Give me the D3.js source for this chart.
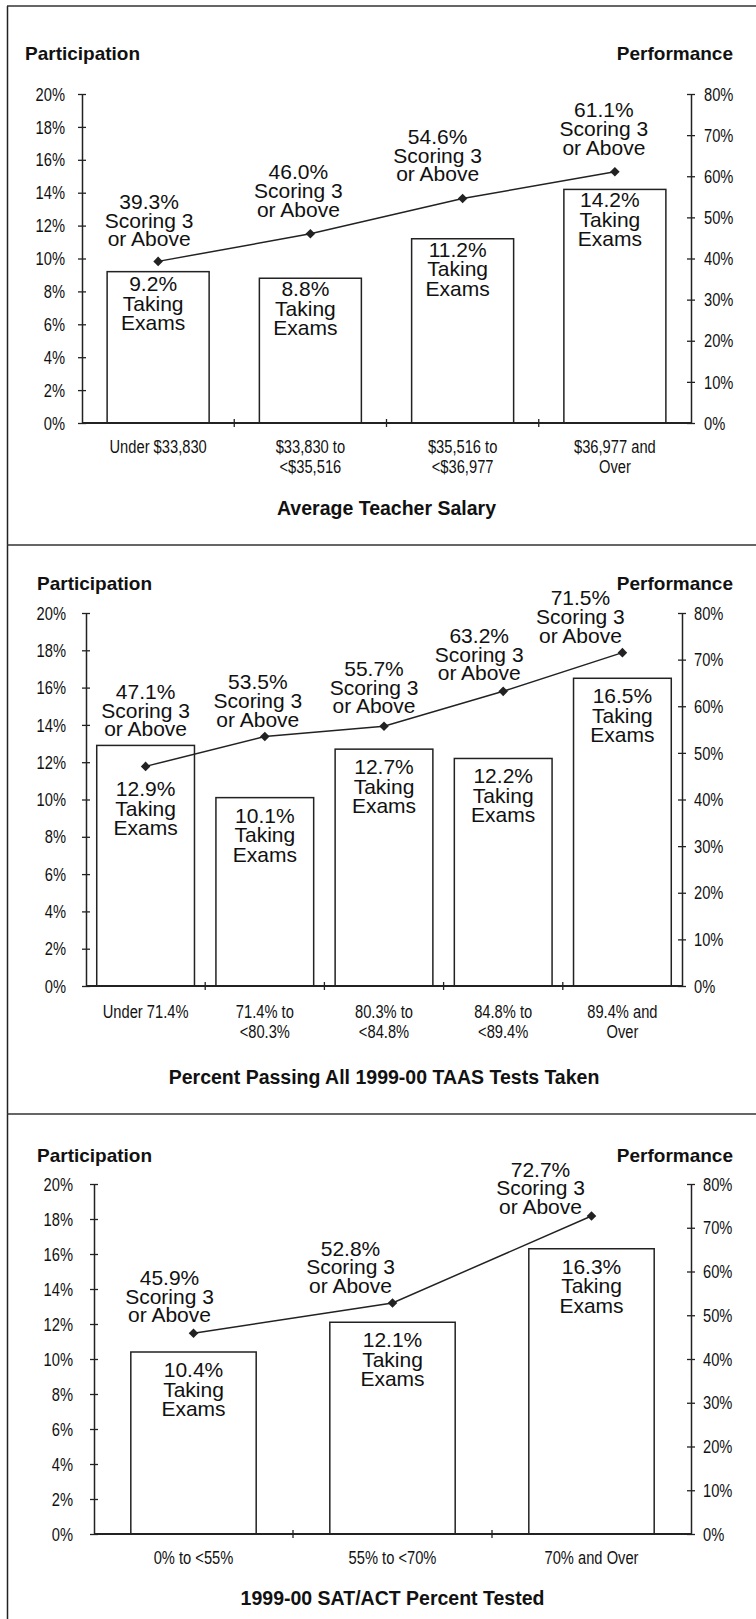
<!DOCTYPE html>
<html>
<head>
<meta charset="utf-8">
<script src="https://cdn.jsdelivr.net/npm/d3@7"></script>
<style>
  body { margin: 0; background: #fff; }
  svg text { fill: #111; }
  .reg { font-family: "Liberation Sans", Arial, sans-serif; }
</style>
</head>
<body>
<div id="chart"></div>
<script>
// tick labels shared by all three panels
const leftTicks = [0, 2, 4, 6, 8, 10, 12, 14, 16, 18, 20];
const rightTicks = [0, 10, 20, 30, 40, 50, 60, 70, 80];

// panel 1 - teacher salary
const salaryCats = [["Under $33,830"], ["$33,830 to", "<$35,516"], ["$35,516 to", "<$36,977"], ["$36,977 and", "Over"]];
const salaryTaking = [9.2, 8.8, 11.2, 14.2];
const salaryScoring = [39.3, 46.0, 54.6, 61.1];

// panel 2 - TAAS passing
const taasCats = [["Under 71.4%"], ["71.4% to", "<80.3%"], ["80.3% to", "<84.8%"], ["84.8% to", "<89.4%"], ["89.4% and", "Over"]];
const taasTaking = [12.9, 10.1, 12.7, 12.2, 16.5];
const taasScoring = [47.1, 53.5, 55.7, 63.2, 71.5];

// panel 3 - SAT/ACT tested
const satCats = [["0% to <55%"], ["55% to <70%"], ["70% and Over"]];
const satTaking = [10.4, 12.1, 16.3];
const satScoring = [45.9, 52.8, 72.7];

const width = 756, height = 1619;
// no condensed font installed, so squeeze the axis text horizontally
const narrow = 0.84;

var svg = d3.select("#chart")
    .append("svg")
    .attr("width", width)
    .attr("height", height);

// frame: left edge plus the panel dividers
svg.append("line").attr("x1", 7.5).attr("x2", 7.5).attr("y1", 6).attr("y2", height)
    .attr("stroke", "#222").attr("stroke-width", 1.5);
[6, 545, 1114].forEach(function (y) {
    svg.append("line").attr("x1", 7).attr("x2", width).attr("y1", y).attr("y2", y)
        .attr("stroke", "#333").attr("stroke-width", 1.5);
});

function drawPanel(p) {
    var g = svg.append("g");

    var x = d3.scaleBand()
        .domain(d3.range(p.cats.length))
        .range([p.left, p.right])
        .paddingInner(p.pad)
        .paddingOuter(p.pad / 2);

    var yL = d3.scaleLinear().domain([0, 20]).range([p.bottom, p.top]);
    var yR = d3.scaleLinear().domain([0, 80]).range([p.bottom, p.top]);

    // axes
    var leftAxis = d3.axisLeft(yL).tickValues(leftTicks).tickSizeInner(4).tickSizeOuter(0)
        .tickFormat(function (d) { return d + "%"; });
    var rightAxis = d3.axisRight(yR).tickValues(rightTicks).tickSizeInner(4).tickSizeOuter(0)
        .tickFormat(function (d) { return d + "%"; });

    var la = g.append("g").attr("transform", "translate(" + p.left + ",0)").call(leftAxis);
    var ra = g.append("g").attr("transform", "translate(" + p.right + ",0)").call(rightAxis);
    [la, ra].forEach(function (a) {
        a.select(".domain").attr("stroke", "#222").attr("stroke-width", 1.5);
        a.selectAll(".tick line").attr("stroke", "#222").attr("stroke-width", 1.3)
            .attr("x1", -4).attr("x2", 4);
        a.selectAll(".tick text").attr("class", "reg").attr("font-size", 17.5)
            .attr("fill", "#111").attr("transform", "scale(" + narrow + ",1)");
    });
    la.selectAll(".tick text").attr("x", -(p.left - p.leftLabelEnd) / narrow).attr("dy", "0.35em");
    ra.selectAll(".tick text").attr("x", p.rightLabelGap / narrow).attr("dy", "0.35em");

    // bars
    g.selectAll(".bar")
        .data(p.taking)
        .join("rect")
        .attr("class", "bar")
        .attr("x", function (d, i) { return x(i); })
        .attr("y", function (d) { return yL(d); })
        .attr("width", x.bandwidth())
        .attr("height", function (d) { return yL(0) - yL(d); })
        .attr("fill", "#fff")
        .attr("stroke", "#222")
        .attr("stroke-width", 1.5);

    // x axis baseline and category ticks
    g.append("line").attr("x1", p.left).attr("x2", p.right)
        .attr("y1", p.bottom).attr("y2", p.bottom)
        .attr("stroke", "#222").attr("stroke-width", 2);
    var step = (p.right - p.left) / p.cats.length;
    g.selectAll(".cattick")
        .data(d3.range(1, p.cats.length))
        .join("line")
        .attr("x1", function (d) { return p.left + d * step; })
        .attr("x2", function (d) { return p.left + d * step; })
        .attr("y1", p.bottom - 4).attr("y2", p.bottom + 4)
        .attr("stroke", "#222").attr("stroke-width", 1.3);

    // category labels
    g.selectAll(".catlabel")
        .data(p.cats)
        .join("text")
        .attr("class", "reg")
        .attr("font-size", 17.5)
        .attr("text-anchor", "middle")
        .attr("transform", function (d, i) {
            return "translate(" + (p.left + (i + 0.5) * step) + "," + p.catY + ") scale(" + narrow + ",1)";
        })
        .selectAll("tspan")
        .data(function (d) { return d; })
        .join("tspan")
        .attr("x", 0)
        .attr("y", function (d, i) { return i * 20; })
        .text(function (d) { return d; });

    // line of performance values
    var cx = function (i) { return x(i) + x.bandwidth() / 2; };
    var line = d3.line()
        .x(function (d, i) { return cx(i); })
        .y(function (d) { return yR(d); });

    g.append("path")
        .datum(p.scoring)
        .attr("d", line)
        .attr("fill", "none")
        .attr("stroke", "#222")
        .attr("stroke-width", 1.5);

    g.selectAll(".marker")
        .data(p.scoring)
        .join("path")
        .attr("class", "marker")
        .attr("d", d3.symbol(d3.symbolSquare, 46))
        .attr("transform", function (d, i) { return "translate(" + cx(i) + "," + yR(d) + ") rotate(45)"; })
        .attr("fill", "#222");

    // labels above the points
    g.selectAll(".linelabel")
        .data(p.scoring)
        .join("text")
        .attr("class", "reg")
        .attr("font-size", 21)
        .attr("text-anchor", "middle")
        .attr("transform", function (d, i) {
            return "translate(" + (cx(i) + p.lineNudge[i][0]) + "," + (yR(d) - p.lineNudge[i][1]) + ")";
        })
        .selectAll("tspan")
        .data(function (d) { return [d.toFixed(1) + "%", "Scoring 3", "or Above"]; })
        .join("tspan")
        .attr("x", 0)
        .attr("y", function (d, i) { return (i - 2) * 18.7; })
        .text(function (d) { return d; });

    // labels inside the bars, pushed under the marker when it sits in the bar
    g.selectAll(".barlabel")
        .data(p.taking)
        .join("text")
        .attr("class", "reg")
        .attr("font-size", 21)
        .attr("text-anchor", "middle")
        .attr("transform", function (d, i) {
            var yy = Math.max(yL(d) + p.barDy, yR(p.scoring[i]) + 30);
            return "translate(" + (cx(i) + p.barDx) + "," + yy + ")";
        })
        .selectAll("tspan")
        .data(function (d) { return [d.toFixed(1) + "%", "Taking", "Exams"]; })
        .join("tspan")
        .attr("x", 0)
        .attr("y", function (d, i) { return i * 19.5; })
        .text(function (d) { return d; });

    // titles
    g.append("text").attr("class", "reg").attr("font-size", 19).attr("font-weight", "bold")
        .attr("x", p.partX).attr("y", p.headY).text("Participation");
    g.append("text").attr("class", "reg").attr("font-size", 19).attr("font-weight", "bold")
        .attr("text-anchor", "end")
        .attr("x", 733).attr("y", p.headY).text("Performance");
    g.append("text").attr("class", "reg").attr("font-size", 19.5).attr("font-weight", "bold")
        .attr("text-anchor", "middle")
        .attr("x", (p.left + p.right) / 2).attr("y", p.titleY).text(p.title);
}

drawPanel({
    cats: salaryCats, taking: salaryTaking, scoring: salaryScoring,
    title: "Average Teacher Salary",
    left: 82, right: 691, top: 94, bottom: 423, pad: 0.33,
    leftLabelEnd: 65, rightLabelGap: 13,
    partX: 25, headY: 60, catY: 453, titleY: 515,
    barDx: -5, barDy: 18,
    lineNudge: [[-9, 15], [-12, 17], [-25, 17], [-11, 17]]
});

drawPanel({
    cats: taasCats, taking: taasTaking, scoring: taasScoring,
    title: "Percent Passing All 1999-00 TAAS Tests Taken",
    left: 86, right: 682, top: 613, bottom: 986, pad: 0.18,
    leftLabelEnd: 66, rightLabelGap: 12,
    partX: 37, headY: 590, catY: 1018, titleY: 1084,
    barDx: 0, barDy: 25,
    lineNudge: [[0, 30], [-7, 10], [-10, 13], [-24, 11], [-42, 10]]
});

drawPanel({
    cats: satCats, taking: satTaking, scoring: satScoring,
    title: "1999-00 SAT/ACT Percent Tested",
    left: 94, right: 691, top: 1184, bottom: 1534, pad: 0.37,
    leftLabelEnd: 73, rightLabelGap: 12,
    partX: 37, headY: 1162, catY: 1564, titleY: 1605,
    barDx: 0, barDy: 25,
    lineNudge: [[-24, 11], [-42, 10], [-51, 2]]
});
</script>
</body>
</html>
